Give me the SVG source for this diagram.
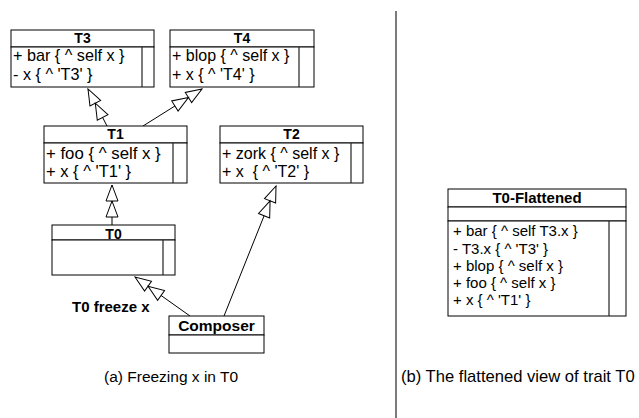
<svg xmlns="http://www.w3.org/2000/svg" width="639" height="418" viewBox="0 0 639 418">
<style>
.box{fill:#fff;stroke:#000;stroke-width:1}
.div{fill:none;stroke:#222;stroke-width:1.2}
.hd{font-family:"Liberation Sans",Arial,sans-serif;font-size:14px;font-weight:bold;text-anchor:middle;fill:#000}
.tx{font-family:"Liberation Sans",Arial,sans-serif;font-size:15px;fill:#000}
.lbl{font-family:"Liberation Sans",Arial,sans-serif;font-size:15px;font-weight:bold;fill:#000}
.edge{fill:none;stroke:#000;stroke-width:1;marker-end:url(#inh)}
</style>
<defs>
<marker id="inh" markerUnits="userSpaceOnUse" orient="auto" refX="0" refY="0" viewBox="-34 -8 36 16" markerWidth="36" markerHeight="16" overflow="visible">
<path d="M0,0 L-16,-6 L-16,6 Z M-16,0 L-32,-6 L-32,6 Z" fill="#fff" stroke="#000" stroke-width="1"/>
</marker>
</defs>
<rect width="639" height="418" fill="#fff"/>
<line x1="396" y1="11" x2="396" y2="418" stroke="#444" stroke-width="1.4"/>
<g id="connectors">
<line class="edge" x1="107" y1="126" x2="88" y2="89"/>
<line class="edge" x1="143" y1="126" x2="202" y2="89"/>
<line class="edge" x1="112" y1="225" x2="112" y2="185"/>
<line class="edge" x1="190" y1="316" x2="135" y2="277"/>
<line class="edge" x1="224" y1="316" x2="276" y2="186"/>
</g>
<g id="T3">
<rect class="box" x="11" y="30" width="143" height="17"/>
<rect class="box" x="11" y="47" width="143" height="40"/>
<line class="div" x1="142" y1="47" x2="142" y2="87"/>
<text class="hd" x="82.5" y="43">T3</text>
<text class="tx" x="13" y="61" style="font-size:16.2px">+ bar { ^ self x }</text>
<text class="tx" x="13" y="80" style="font-size:16.2px">- x { ^ 'T3' }</text>
</g>
<g id="T4">
<rect class="box" x="170" y="30" width="144" height="17"/>
<rect class="box" x="170" y="47" width="144" height="40"/>
<line class="div" x1="299" y1="47" x2="299" y2="87"/>
<text class="hd" x="242" y="43">T4</text>
<text class="tx" x="172" y="61" style="font-size:16px">+ blop { ^ self x }</text>
<text class="tx" x="172" y="80" style="font-size:16px">+ x { ^ 'T4' }</text>
</g>
<g id="T1">
<rect class="box" x="44" y="126" width="143" height="17"/>
<rect class="box" x="44" y="143" width="143" height="40"/>
<line class="div" x1="173" y1="143" x2="173" y2="183"/>
<text class="hd" x="115.5" y="139">T1</text>
<text class="tx" x="46" y="158.5" style="font-size:16.8px">+ foo { ^ self x }</text>
<text class="tx" x="46" y="177" style="font-size:16.5px">+ x { ^ 'T1' }</text>
</g>
<g id="T2">
<rect class="box" x="220" y="126" width="143" height="17"/>
<rect class="box" x="220" y="143" width="143" height="40"/>
<line class="div" x1="351" y1="143" x2="351" y2="183"/>
<text class="hd" x="291.5" y="139">T2</text>
<text class="tx" x="222" y="158.5" style="font-size:16px">+ zork { ^ self x }</text>
<text class="tx" x="222" y="177" style="font-size:16px" xml:space="preserve">+ x  { ^ 'T2' }</text>
</g>
<g id="T0">
<rect class="box" x="52" y="225" width="123" height="15"/>
<rect class="box" x="52" y="240" width="123" height="35"/>
<line class="div" x1="163" y1="240" x2="163" y2="275"/>
<text class="hd" x="113.5" y="238.5">T0</text>
</g>
<g id="Composer">
<rect class="box" x="169" y="316" width="95" height="19"/>
<rect class="box" x="169" y="335" width="95" height="18"/>
<text class="hd" x="216.5" y="331" style="font-size:15.5px">Composer</text>
</g>
<text class="lbl" x="72" y="312">T0 freeze x</text>
<g id="T0-Flattened">
<rect class="box" x="448" y="189" width="178" height="18"/>
<rect class="box" x="448" y="207" width="178" height="14"/>
<rect class="box" x="448" y="221" width="178" height="95"/>
<line class="div" x1="609" y1="221" x2="609" y2="316"/>
<text class="hd" x="537" y="203" style="font-size:15px">T0-Flattened</text>
<text class="tx" x="453" y="236">+ bar { ^ self T3.x }</text>
<text class="tx" x="453" y="254">- T3.x { ^ 'T3' }</text>
<text class="tx" x="453" y="271">+ blop { ^ self x }</text>
<text class="tx" x="453" y="288">+ foo { ^ self x }</text>
<text class="tx" x="453" y="305">+ x { ^ 'T1' }</text>
</g>
<text class="tx" x="104" y="382" style="font-size:15.5px">(a) Freezing x in T0</text>
<text class="tx" x="401" y="382" style="font-size:16.6px">(b) The flattened view of trait T0</text>
</svg>
